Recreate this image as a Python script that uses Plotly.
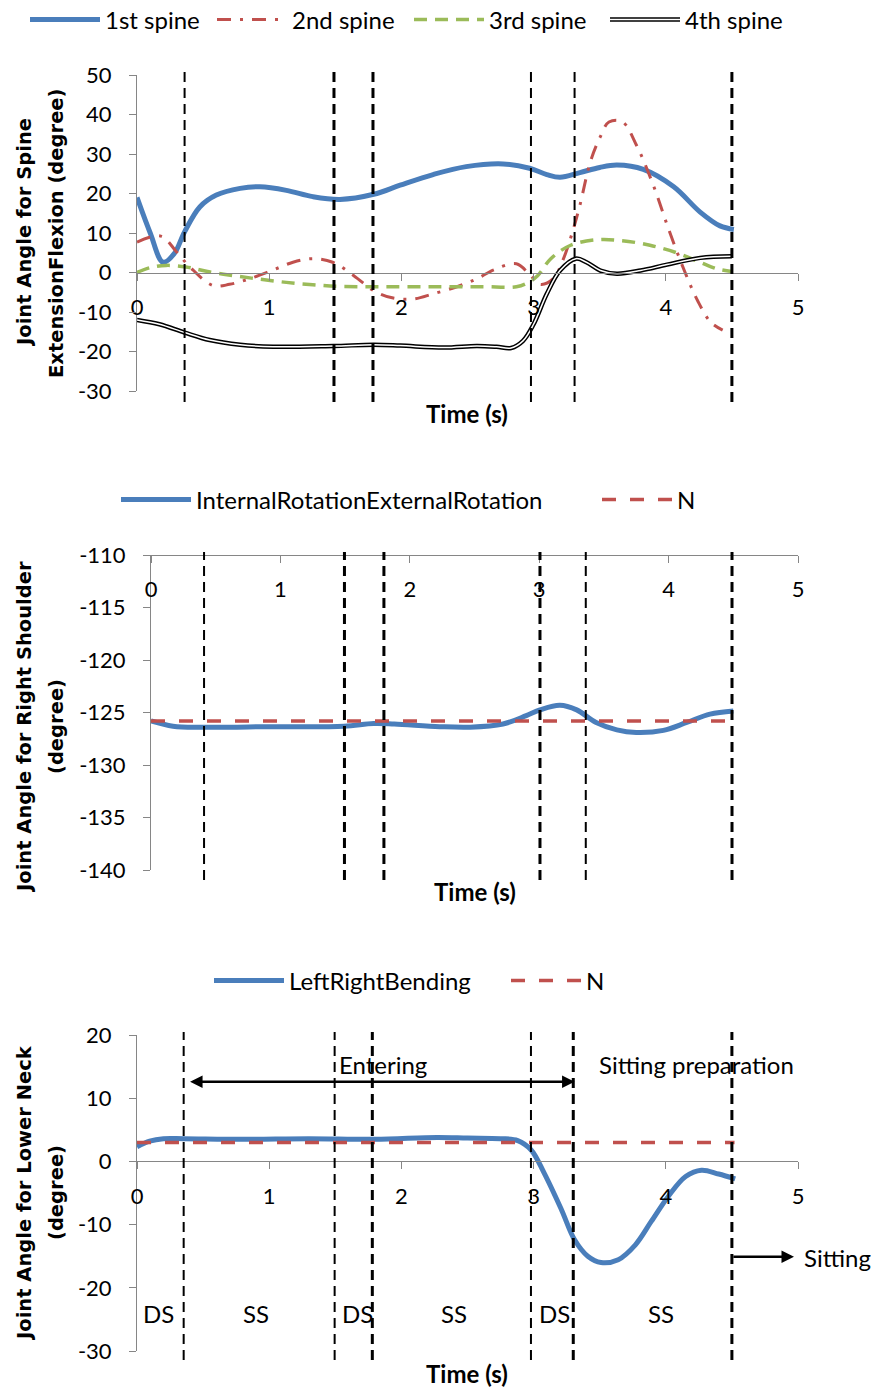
import plotly.graph_objects as go

W, H = 871, 1388

# ---------------- data: panel 1 (spine extension/flexion) ----------------
t_s1 = [0, 0.1, 0.197, 0.28, 0.36, 0.475, 0.60, 0.78, 0.93, 1.13, 1.33, 1.535, 1.79, 1.99,
        2.24, 2.49, 2.77, 2.97, 3.10, 3.20, 3.35, 3.50, 3.63, 3.83, 4.06, 4.26, 4.41, 4.515]
y_s1 = [19.0, 10.0, 2.6, 4.7, 10.3, 16.6, 19.6, 21.3, 21.7, 20.8, 19.2, 18.5, 19.8, 22.1,
        24.8, 26.8, 27.5, 26.4, 24.8, 24.1, 25.3, 26.6, 27.2, 26.1, 21.7, 15.3, 11.8, 10.9]

t_s2 = [0, 0.18, 0.30, 0.40, 0.575, 0.70, 0.85, 1.02, 1.18, 1.33, 1.48, 1.64, 1.79, 1.93,
        2.09, 2.24, 2.42, 2.57, 2.70, 2.87, 2.97, 3.05, 3.15, 3.22, 3.29, 3.35, 3.43, 3.505,
        3.57, 3.67, 3.78, 3.91, 4.02, 4.14, 4.24, 4.34, 4.43]
y_s2 = [7.7, 9.2, 5.2, 1.4, -3.3, -3.0, -1.6, 0.5, 2.6, 3.5, 2.6, -0.8, -4.6, -6.4,
        -6.7, -5.4, -3.6, -1.6, 0.7, 2.2, -0.5, -3.0, -1.5, 3.0, 9.8, 17.0, 28.1, 34.4,
        38.1, 38.2, 32.1, 21.7, 11.1, 0.5, -7.1, -12.6, -14.6]

t_s3 = [0, 0.096, 0.22, 0.37, 0.525, 0.73, 0.93, 1.13, 1.33, 1.535, 1.86, 2.24, 2.62, 2.87,
        2.95, 3.03, 3.13, 3.28, 3.48, 3.66, 3.88, 4.09, 4.26, 4.39, 4.50]
y_s3 = [0, 1.2, 1.8, 1.4, 0.3, -0.8, -1.7, -2.5, -3.1, -3.5, -3.6, -3.6, -3.6, -3.6,
        -2.7, -0.8, 3.5, 6.9, 8.3, 8.1, 6.9, 4.9, 2.6, 0.9, 0.25]

t_s4 = [0, 0.17, 0.36, 0.55, 0.78, 1.03, 1.485, 1.79, 1.99, 2.32, 2.57, 2.72, 2.83, 2.92,
        3.00, 3.10, 3.20, 3.32, 3.40, 3.505, 3.63, 3.81, 4.01, 4.26, 4.50]
y_s4 = [-12.0, -13.1, -15.2, -17.1, -18.3, -18.8, -18.6, -18.3, -18.5, -19.0, -18.6, -18.8, -19.1, -17.3,
        -13.1, -5.4, 0.5, 3.5, 2.6, 0.5, -0.3, 0.5, 2.0, 3.7, 4.1]

events_p1 = [0.36, 1.49, 1.785, 2.98, 3.31, 4.50]
events_p1_w = [2, 3, 3, 2, 2, 3]

# ---------------- data: panel 2 (right shoulder) ----------------
t_sh = [0, 0.17, 0.40, 0.945, 1.49, 1.72, 1.88, 2.23, 2.465, 2.72, 2.90, 3.006, 3.16, 3.29,
        3.44, 3.60, 3.75, 3.96, 4.14, 4.32, 4.50]
y_sh = [-125.8, -126.3, -126.4, -126.35, -126.3, -126.05, -126.1, -126.35, -126.4, -126.1, -125.3,
        -124.75, -124.3, -124.75, -125.95, -126.65, -126.9, -126.7, -125.95, -125.15, -124.85]
t_shN = [0, 4.45]
y_shN = [-125.8, -125.8]

events_p2 = [0.41, 1.495, 1.80, 3.006, 3.36, 4.49]
events_p2_w = [2, 3, 3, 3, 2, 3]

# ---------------- data: panel 3 (lower neck) ----------------
t_nk = [0, 0.096, 0.20, 0.355, 0.8, 1.3, 1.8, 2.27, 2.5, 2.75, 2.88, 2.98, 3.08, 3.21, 3.31,
        3.41, 3.51, 3.64, 3.77, 3.89, 4.02, 4.15, 4.27, 4.40, 4.525]
y_nk = [2.3, 3.2, 3.6, 3.6, 3.5, 3.6, 3.5, 3.8, 3.7, 3.6, 3.3, 1.85, -1.85, -7.6, -12.4,
        -15.0, -16.0, -15.55, -13.2, -9.5, -5.5, -2.4, -1.4, -2.0, -2.75]
t_nkN = [0, 4.52]
y_nkN = [3.0, 3.0]

events_p3 = [0.353, 1.495, 1.78, 2.98, 3.30, 4.50]
events_p3_w = [2, 2, 3, 2, 3, 3]

phase_labels = ["DS", "SS", "DS", "SS", "DS", "SS"]
phase_t = [0.166, 0.90, 1.67, 2.40, 3.16, 3.96]

# tick labels
x_ticks = [0, 1, 2, 3, 4, 5]
y1_ticks = [-30, -20, -10, 0, 10, 20, 30, 40, 50]
y2_ticks = [-140, -135, -130, -125, -120, -115, -110]
y3_ticks = [-30, -20, -10, 0, 10, 20]

BLUE = "#4A7EBB"
RED = "#C0504D"
GREEN = "#9BBB59"
GRAY = "#868686"
TXT = "Lato"
TICKF = dict(family=TXT, size=22, color="black")


def px(xp):
    return xp / W


def py(yp):
    return 1 - yp / H


def lab(v):
    return [str(x) for x in v]


# pixel geometry of the three plot areas
P = [
    dict(x0=137, x1=798, ytop=75, ybot=391, yr=[-30, 50], yt=y1_ticks),
    dict(x0=151, x1=798, ytop=555, ybot=870, yr=[-140, -110], yt=y2_ticks),
    dict(x0=137, x1=798, ytop=1035, ybot=1351, yr=[-30, 20], yt=y3_ticks),
]

fig = go.Figure()

# panel 1 traces
fig.add_trace(go.Scatter(x=t_s1, y=y_s1, mode="lines", name="1st spine", line=dict(color=BLUE, width=5, shape="spline"),
                         xaxis="x", yaxis="y", legend="legend"))
fig.add_trace(go.Scatter(x=t_s2, y=y_s2, mode="lines", name="2nd spine",
                         line=dict(color=RED, width=3, shape="spline", dash="14px,9px,3px,9px"),
                         xaxis="x", yaxis="y", legend="legend2"))
fig.add_trace(go.Scatter(x=t_s3, y=y_s3, mode="lines", name="3rd spine",
                         line=dict(color=GREEN, width=3.5, shape="spline", dash="13px,8px"),
                         xaxis="x", yaxis="y", legend="legend3"))
fig.add_trace(go.Scatter(x=t_s4, y=y_s4, mode="lines", name="4th spine", line=dict(color="black", width=4.5, shape="spline"),
                         xaxis="x", yaxis="y", legend="legend4"))
fig.add_trace(go.Scatter(x=t_s4, y=y_s4, mode="lines", name="4th spine", hoverinfo="skip",
                         line=dict(color="white", width=1.5, shape="spline"), xaxis="x", yaxis="y",
                         legend="legend9"))

# panel 2 traces
fig.add_trace(go.Scatter(x=t_sh, y=y_sh, mode="lines", name="InternalRotationExternalRotation",
                         line=dict(color=BLUE, width=5, shape="spline"), xaxis="x2", yaxis="y2", legend="legend5"))
fig.add_trace(go.Scatter(x=t_shN, y=y_shN, mode="lines", name="N",
                         line=dict(color=RED, width=3.5, dash="14px,14px"), xaxis="x2", yaxis="y2", legend="legend6"))

# panel 3 traces
fig.add_trace(go.Scatter(x=t_nk, y=y_nk, mode="lines", name="LeftRightBending",
                         line=dict(color=BLUE, width=5, shape="spline"), xaxis="x3", yaxis="y3", legend="legend7"))
fig.add_trace(go.Scatter(x=t_nkN, y=y_nkN, mode="lines", name="N",
                         line=dict(color=RED, width=3.5, dash="14px,14px"), xaxis="x3", yaxis="y3", legend="legend8"))

layout = dict(
    width=W, height=H, margin=dict(l=0, r=0, t=0, b=0, autoexpand=False),
    paper_bgcolor="white", plot_bgcolor="rgba(0,0,0,0)",
    font=dict(family=TXT, size=22, color="black"),
    showlegend=True,
)

axnames = [("xaxis", "yaxis", "x", "y"), ("xaxis2", "yaxis2", "x2", "y2"), ("xaxis3", "yaxis3", "x3", "y3")]
for i, (p, (xa, ya, xr, yr)) in enumerate(zip(P, axnames)):
    dom_b, dom_t = py(p["ybot"]), py(p["ytop"])
    lo, hi = p["yr"]
    if lo < 0 < hi:
        pos = dom_b + (0 - lo) / (hi - lo) * (dom_t - dom_b)
    else:
        pos = dom_t
    layout[xa] = dict(domain=[px(p["x0"]), px(p["x1"])], range=[0, 5], anchor="free", position=pos,
                      side="bottom", showline=True, linecolor=GRAY, linewidth=1, ticks="outside",
                      ticklen=7, tickcolor=GRAY, tickvals=x_ticks, ticktext=lab(x_ticks),
                      tickfont=TICKF, ticklabelstandoff=8, showgrid=False, zeroline=False, fixedrange=True)
    layout[ya] = dict(domain=[dom_b, dom_t], range=p["yr"], anchor=xr, showline=True, linecolor=GRAY,
                      linewidth=1, ticks="outside", ticklen=7, tickcolor=GRAY, tickvals=p["yt"],
                      ticktext=lab(p["yt"]), tickfont=TICKF, ticklabelstandoff=13,
                      showgrid=False, zeroline=False, fixedrange=True)

LEGF = dict(family=TXT, size=24, color="black")
# one legend per entry so each can sit exactly where the reference has it
leg_pos = {"legend": (25, 20), "legend2": (212, 20), "legend3": (409, 20), "legend4": (605, 20),
           "legend9": (605, 20),
           "legend5": (116, 500), "legend6": (597, 500),
           "legend7": (209, 981), "legend8": (506, 981)}
for name, (lx, ly) in leg_pos.items():
    f = dict(LEGF)
    if name == "legend9":
        f["color"] = "rgba(0,0,0,0)"
    layout[name] = dict(orientation="h", x=px(lx), y=py(ly), xanchor="left", yanchor="middle",
                        font=f, itemwidth=70, bgcolor="rgba(0,0,0,0)", borderwidth=0)

# vertical event lines (shapes)
shapes = []
ext = [(68, 402), (552, 880), (1032, 1360)]
for (xr, ev, wd, (ya, yb)) in zip(["x", "x2", "x3"], [events_p1, events_p2, events_p3],
                                   [events_p1_w, events_p2_w, events_p3_w], ext):
    for t, w in zip(ev, wd):
        shapes.append(dict(type="line", xref=xr, yref="paper", x0=t, x1=t, y0=py(yb), y1=py(ya),
                           line=dict(color="black", width=w, dash="10px,6px"), layer="above"))
layout["shapes"] = shapes

ann = []
# y-axis titles
YTF = dict(family="DejaVu Sans", size=19.5, color="black")
ytitles = [("<b>Joint Angle for Spine</b>", "<b>ExtensionFlexion (degree)</b>", 233),
           ("<b>Joint Angle for Right Shoulder</b>", "<b>(degree)</b>", 727),
           ("<b>Joint Angle for Lower Neck</b>", "<b>(degree)</b>", 1193)]
for l1, l2, yc in ytitles:
    ann.append(dict(text=l1, xref="paper", yref="paper", x=px(24), y=py(yc), xanchor="center", yanchor="middle",
                    textangle=-90, showarrow=False, font=YTF))
    ann.append(dict(text=l2, xref="paper", yref="paper", x=px(56), y=py(yc), xanchor="center", yanchor="middle",
                    textangle=-90, showarrow=False, font=YTF))
# x-axis titles
for xc, yc in [(467, 413), (475, 892), (467, 1373)]:
    ann.append(dict(text="<b>Time (s)</b>", xref="paper", yref="paper", x=px(xc), y=py(yc), xanchor="center",
                    yanchor="middle", showarrow=False, font=dict(family=TXT, size=24, color="black")))

AF = dict(family=TXT, size=24, color="black")
# phase annotations in panel 3
ann.append(dict(x=3.31, y=12.6, ax=0.39, ay=12.6, xref="x3", yref="y3", axref="x3", ayref="y3", text="",
                showarrow=True, arrowhead=2, arrowside="end+start", arrowwidth=2.5, arrowsize=1, arrowcolor="black",
                standoff=0, startstandoff=0))
ann.append(dict(x=1.86, y=15.3, xref="x3", yref="y3", text="Entering", showarrow=False, font=AF))
ann.append(dict(x=4.23, y=15.3, xref="x3", yref="y3", text="Sitting preparation", showarrow=False, font=AF))
ann.append(dict(x=4.97, y=-15.1, ax=4.5, ay=-15.1, xref="x3", yref="y3", axref="x3", ayref="y3", text="",
                showarrow=True, arrowhead=2, arrowwidth=2.5, arrowsize=1, arrowcolor="black", standoff=0))
ann.append(dict(x=px(802), y=py(1257), xref="paper", yref="paper", text="Sitting", showarrow=False,
                xanchor="left", yanchor="middle", font=AF))
for lb, t in zip(phase_labels, phase_t):
    ann.append(dict(x=t, y=-24.0, xref="x3", yref="y3", text=lb, showarrow=False, font=AF))
layout["annotations"] = ann

fig.update_layout(**layout)
fig.write_html("out.html", config={"displayModeBar": False},
               post_script="document.body.style.margin='0';document.body.style.overflow='hidden';")
